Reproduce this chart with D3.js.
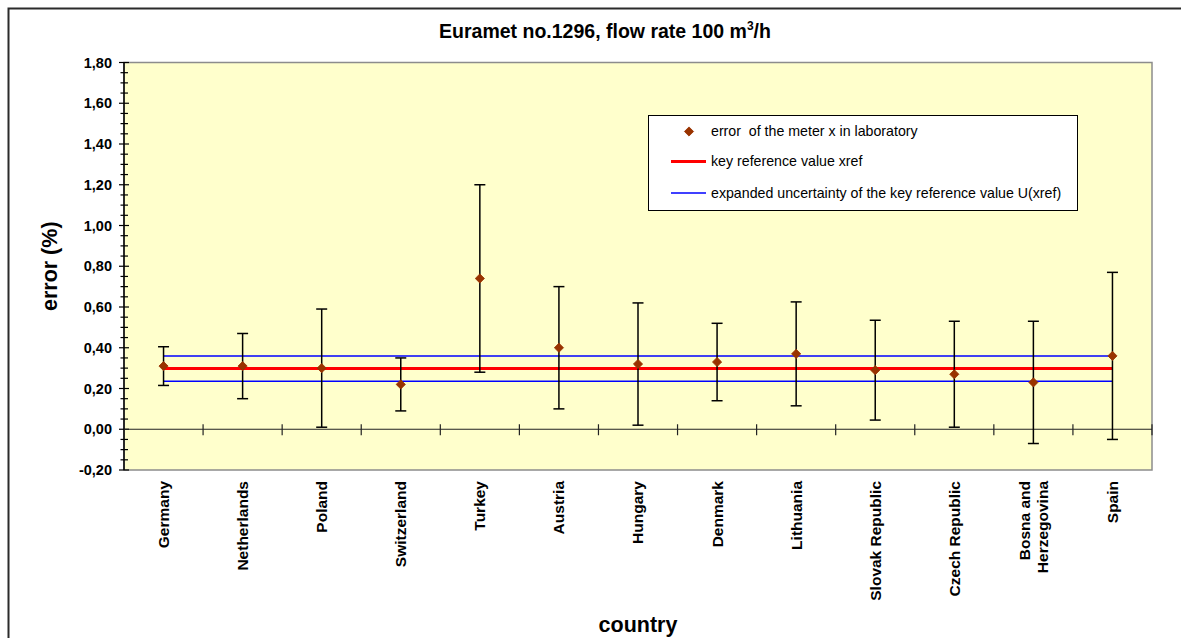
<!DOCTYPE html>
<html>
<head>
<meta charset="utf-8">
<script src="https://cdn.jsdelivr.net/npm/d3@7"></script>
<style>
  html, body { margin: 0; padding: 0; background: #fff; overflow: hidden; }
  svg { display: block; font-family: "Liberation Sans", Arial, sans-serif; }
</style>
</head>
<body>
<svg id="chart" width="1181" height="638"></svg>
<script>
// Laboratories taking part in the comparison
const countries = ["Germany", "Netherlands", "Poland", "Switzerland", "Turkey", "Austria",
  "Hungary", "Denmark", "Lithuania", "Slovak Republic", "Czech Republic",
  "Bosna and Herzegovina", "Spain"];
// Error of the meter measured in each laboratory (%)
const meterError = [0.31, 0.31, 0.30, 0.22, 0.74, 0.40, 0.32, 0.33, 0.37, 0.29, 0.27, 0.23, 0.36];
// Expanded uncertainty of each laboratory result (%)
const labUncertainty = [0.095, 0.16, 0.29, 0.13, 0.46, 0.30, 0.30, 0.19, 0.255, 0.245, 0.26, 0.30, 0.41];
// Key reference value and its expanded uncertainty (%)
const keyRefValue = [0.298];
const keyRefUncertainty = [0.062];
// Y axis ticks
const yMajorTicks = [-0.2, 0, 0.2, 0.4, 0.6, 0.8, 1.0, 1.2, 1.4, 1.6, 1.8];
const yMinorStep = [0.05];
const legendLabels = [
  "error  of the meter x in laboratory",
  "key reference value xref",
  "expanded uncertainty of the key reference value U(xref)"
];

const svg = d3.select("#chart");
const plot = { left: 124, right: 1152, top: 62.5, bottom: 470 };

const x = d3.scaleBand().domain(countries).range([plot.left, plot.right]).padding(0);
const y = d3.scaleLinear().domain([-0.2, 1.8]).range([plot.bottom, plot.top]);

const locale = d3.formatLocale({ decimal: ",", thousands: ".", grouping: [3], currency: ["", ""], minus: "-" });
const fmt = locale.format(".2f");

// Outer chart frame
svg.append("rect")
  .attr("x", 8.5).attr("y", 8.5).attr("width", 1200).attr("height", 700)
  .attr("fill", "none").attr("stroke", "#2b2b2b").attr("stroke-width", 2);

// Title
const title = svg.append("text")
  .attr("x", 605).attr("y", 38)
  .attr("text-anchor", "middle")
  .attr("font-size", 19.5).attr("font-weight", "bold").attr("fill", "#000");
title.append("tspan").text("Euramet no.1296, flow rate 100 m");
title.append("tspan").attr("font-size", 12).attr("dy", -8).text("3");
title.append("tspan").attr("dy", 8).text("/h");

// Plot area
svg.append("rect")
  .attr("x", plot.left).attr("y", plot.top)
  .attr("width", plot.right - plot.left).attr("height", plot.bottom - plot.top)
  .attr("fill", "#ffffcc").attr("stroke", "#8c8c8c").attr("stroke-width", 1.5);

// Y axis with major and minor ticks crossing the axis line
const yAxis = d3.axisLeft(y).tickValues(yMajorTicks).tickFormat(fmt).tickSize(0).tickPadding(12);
const gy = svg.append("g").attr("transform", `translate(${plot.left},0)`).call(yAxis);
gy.select(".domain").remove();
gy.selectAll("text").attr("font-size", 14.5).attr("font-weight", "bold").attr("fill", "#000")
  .attr("font-family", "Liberation Sans, Arial, sans-serif");

const minorTicks = d3.range(-0.2, 1.8001, yMinorStep[0]).map(v => Math.round(v * 100) / 100)
  .filter(v => !yMajorTicks.some(m => Math.abs(m - v) < 1e-6));
svg.append("g").selectAll("line").data(minorTicks).join("line")
  .attr("x1", plot.left - 3.5).attr("x2", plot.left + 4)
  .attr("y1", d => y(d)).attr("y2", d => y(d))
  .attr("stroke", "#000").attr("stroke-width", 1.2);
svg.append("g").selectAll("line").data(yMajorTicks).join("line")
  .attr("x1", plot.left - 5).attr("x2", plot.left + 5)
  .attr("y1", d => y(d)).attr("y2", d => y(d))
  .attr("stroke", "#000").attr("stroke-width", 1.2);
svg.append("line")
  .attr("x1", plot.left).attr("x2", plot.left)
  .attr("y1", plot.top).attr("y2", plot.bottom)
  .attr("stroke", "#000").attr("stroke-width", 1.5);

// X axis drawn along the zero line with ticks between categories
svg.append("line")
  .attr("x1", plot.left).attr("x2", plot.right)
  .attr("y1", y(0)).attr("y2", y(0))
  .attr("stroke", "#222").attr("stroke-width", 1.2);
const boundaries = countries.slice(1).map(c => x(c)).concat([plot.right]);
svg.append("g").selectAll("line").data(boundaries).join("line")
  .attr("x1", d => d).attr("x2", d => d)
  .attr("y1", y(0) - 5).attr("y2", y(0) + 6)
  .attr("stroke", "#222").attr("stroke-width", 1.2);

// Category labels, rotated
const labelSize = 15.5;
const xLabels = svg.append("g").selectAll("text").data(countries).join("text")
  .attr("transform", d => `translate(${x(d) + x.bandwidth() / 2},481) rotate(-90)`)
  .attr("text-anchor", "end")
  .attr("font-size", labelSize).attr("font-weight", "bold").attr("fill", "#000");
xLabels.each(function (d) {
  const t = d3.select(this);
  const parts = d === "Bosna and Herzegovina" ? ["Bosna and", "Herzegovina"] : [d];
  const lh = 18;
  parts.forEach((p, i) => {
    t.append("tspan").attr("x", 0)
      .attr("dy", i === 0 ? (0.35 * labelSize - (parts.length - 1) * lh / 2) + "px" : lh + "px")
      .text(p);
  });
});

// Key reference value and its uncertainty band
const xFirst = x(countries[0]) + x.bandwidth() / 2;
const xLast = x(countries[countries.length - 1]) + x.bandwidth() / 2;
const refLines = [
  { v: keyRefValue[0] + keyRefUncertainty[0], color: "#0000ff", w: 1.5 },
  { v: keyRefValue[0] - keyRefUncertainty[0], color: "#0000ff", w: 1.5 },
  { v: keyRefValue[0], color: "#ff0000", w: 3 }
];
svg.append("g").selectAll("line").data(refLines).join("line")
  .attr("x1", xFirst).attr("x2", xLast)
  .attr("y1", d => y(d.v)).attr("y2", d => y(d.v))
  .attr("stroke", d => d.color).attr("stroke-width", d => d.w);

// Error bars
const points = countries.map((c, i) => ({ c, v: meterError[i], u: labUncertainty[i] }));
const cap = 5.5;
const eb = svg.append("g").attr("stroke", "#000").attr("stroke-width", 1.5);
eb.selectAll(".stem").data(points).join("line").attr("class", "stem")
  .attr("x1", d => x(d.c) + x.bandwidth() / 2).attr("x2", d => x(d.c) + x.bandwidth() / 2)
  .attr("y1", d => y(d.v + d.u)).attr("y2", d => y(d.v - d.u));
eb.selectAll(".capTop").data(points).join("line").attr("class", "capTop")
  .attr("x1", d => x(d.c) + x.bandwidth() / 2 - cap).attr("x2", d => x(d.c) + x.bandwidth() / 2 + cap)
  .attr("y1", d => y(d.v + d.u)).attr("y2", d => y(d.v + d.u));
eb.selectAll(".capBot").data(points).join("line").attr("class", "capBot")
  .attr("x1", d => x(d.c) + x.bandwidth() / 2 - cap).attr("x2", d => x(d.c) + x.bandwidth() / 2 + cap)
  .attr("y1", d => y(d.v - d.u)).attr("y2", d => y(d.v - d.u));

// Diamond markers
const diamond = d3.symbol().type(d3.symbolSquare).size(42);
svg.append("g").selectAll("path").data(points).join("path")
  .attr("d", diamond)
  .attr("transform", d => `translate(${x(d.c) + x.bandwidth() / 2},${y(d.v)}) rotate(45)`)
  .attr("fill", "#993300").attr("stroke", "#993300").attr("stroke-width", 0.8);

// Legend
const lg = svg.append("g");
lg.append("rect").attr("x", 648.5).attr("y", 115.5).attr("width", 429).attr("height", 95)
  .attr("fill", "#fff").attr("stroke", "#000").attr("stroke-width", 1);
const rowY = [131.5, 161.5, 193];
lg.append("path").attr("d", diamond)
  .attr("transform", `translate(689,${rowY[0]}) rotate(45)`)
  .attr("fill", "#993300").attr("stroke", "#993300").attr("stroke-width", 0.8);
lg.append("line").attr("x1", 671).attr("x2", 706).attr("y1", rowY[1]).attr("y2", rowY[1])
  .attr("stroke", "#ff0000").attr("stroke-width", 3);
lg.append("line").attr("x1", 671).attr("x2", 706).attr("y1", rowY[2]).attr("y2", rowY[2])
  .attr("stroke", "#0000ff").attr("stroke-width", 1.5);
lg.selectAll("text").data(legendLabels).join("text")
  .attr("x", 711).attr("y", (d, i) => rowY[i]).attr("dy", "0.35em")
  .attr("font-size", 14.2).attr("fill", "#000")
  .attr("xml:space", "preserve")
  .text(d => d);

// Axis titles
svg.append("text")
  .attr("transform", `translate(57,${(plot.top + plot.bottom) / 2}) rotate(-90)`)
  .attr("text-anchor", "middle")
  .attr("font-size", 21.5).attr("font-weight", "bold").attr("fill", "#000")
  .text("error (%)");
svg.append("text")
  .attr("x", 638).attr("y", 632)
  .attr("text-anchor", "middle")
  .attr("font-size", 21.5).attr("font-weight", "bold").attr("fill", "#000")
  .text("country");
</script>
</body>
</html>
